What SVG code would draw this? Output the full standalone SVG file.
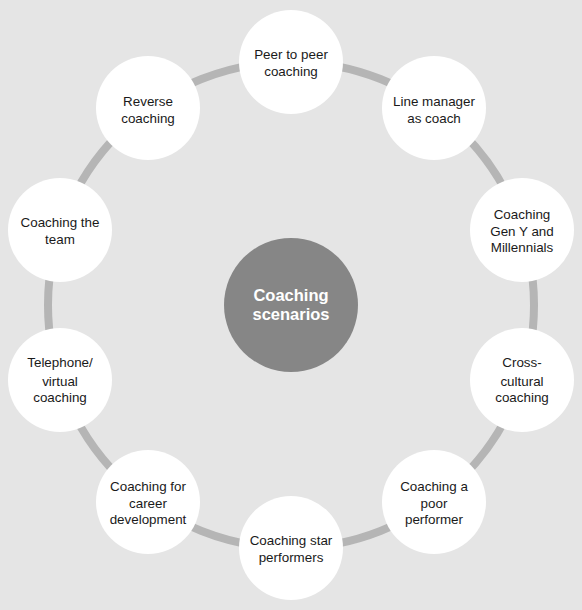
<svg xmlns="http://www.w3.org/2000/svg" width="582" height="610" viewBox="0 0 582 610">
<style>
.bg{fill:#e5e5e5}
.ring{fill:none;stroke:#b5b5b5;stroke-width:8}
.node{fill:#ffffff}
.hub{fill:#868686}
.t{font-family:"Liberation Sans",Arial,sans-serif;font-size:13.4px;fill:#1a1a1a;text-anchor:middle}
.h{font-family:"Liberation Sans",Arial,sans-serif;font-size:16.5px;font-weight:bold;fill:#ffffff;text-anchor:middle}
</style>
<rect class="bg" x="0" y="0" width="582" height="610"/>
<g id="connectors">
<circle class="ring" cx="291" cy="305" r="243"/>
</g>
<g id="hub">
<circle class="hub" cx="291" cy="305" r="67"/>
<text class="h" x="291" y="301">Coaching</text>
<text class="h" x="291" y="320">scenarios</text>
</g>
<g id="n1">
<circle class="node" cx="291" cy="62" r="52"/>
<text class="t" x="291" y="59">Peer to peer</text>
<text class="t" x="291" y="75.5">coaching</text>
</g>
<g id="n2">
<circle class="node" cx="434" cy="108" r="52"/>
<text class="t" x="434" y="106">Line manager</text>
<text class="t" x="434" y="122.5">as coach</text>
</g>
<g id="n3">
<circle class="node" cx="522" cy="230" r="52"/>
<text class="t" x="522" y="219">Coaching</text>
<text class="t" x="522" y="235.5">Gen Y and</text>
<text class="t" x="522" y="252">Millennials</text>
</g>
<g id="n4">
<circle class="node" cx="522" cy="380" r="52"/>
<text class="t" x="522" y="367">Cross-</text>
<text class="t" x="522" y="385.5">cultural</text>
<text class="t" x="522" y="402">coaching</text>
</g>
<g id="n5">
<circle class="node" cx="434" cy="502" r="52"/>
<text class="t" x="434" y="491">Coaching a</text>
<text class="t" x="434" y="507.5">poor</text>
<text class="t" x="434" y="524">performer</text>
</g>
<g id="n6">
<circle class="node" cx="291" cy="548" r="52"/>
<text class="t" x="291" y="545">Coaching star</text>
<text class="t" x="291" y="561.5">performers</text>
</g>
<g id="n7">
<circle class="node" cx="148" cy="502" r="52"/>
<text class="t" x="148" y="491">Coaching for</text>
<text class="t" x="148" y="507.5">career</text>
<text class="t" x="148" y="524">development</text>
</g>
<g id="n8">
<circle class="node" cx="60" cy="380" r="52"/>
<text class="t" x="60" y="367">Telephone/</text>
<text class="t" x="60" y="385.5">virtual</text>
<text class="t" x="60" y="402">coaching</text>
</g>
<g id="n9">
<circle class="node" cx="60" cy="230" r="52"/>
<text class="t" x="60" y="227">Coaching the</text>
<text class="t" x="60" y="243.5">team</text>
</g>
<g id="n10">
<circle class="node" cx="148" cy="108" r="52"/>
<text class="t" x="148" y="106">Reverse</text>
<text class="t" x="148" y="122.5">coaching</text>
</g>
</svg>
